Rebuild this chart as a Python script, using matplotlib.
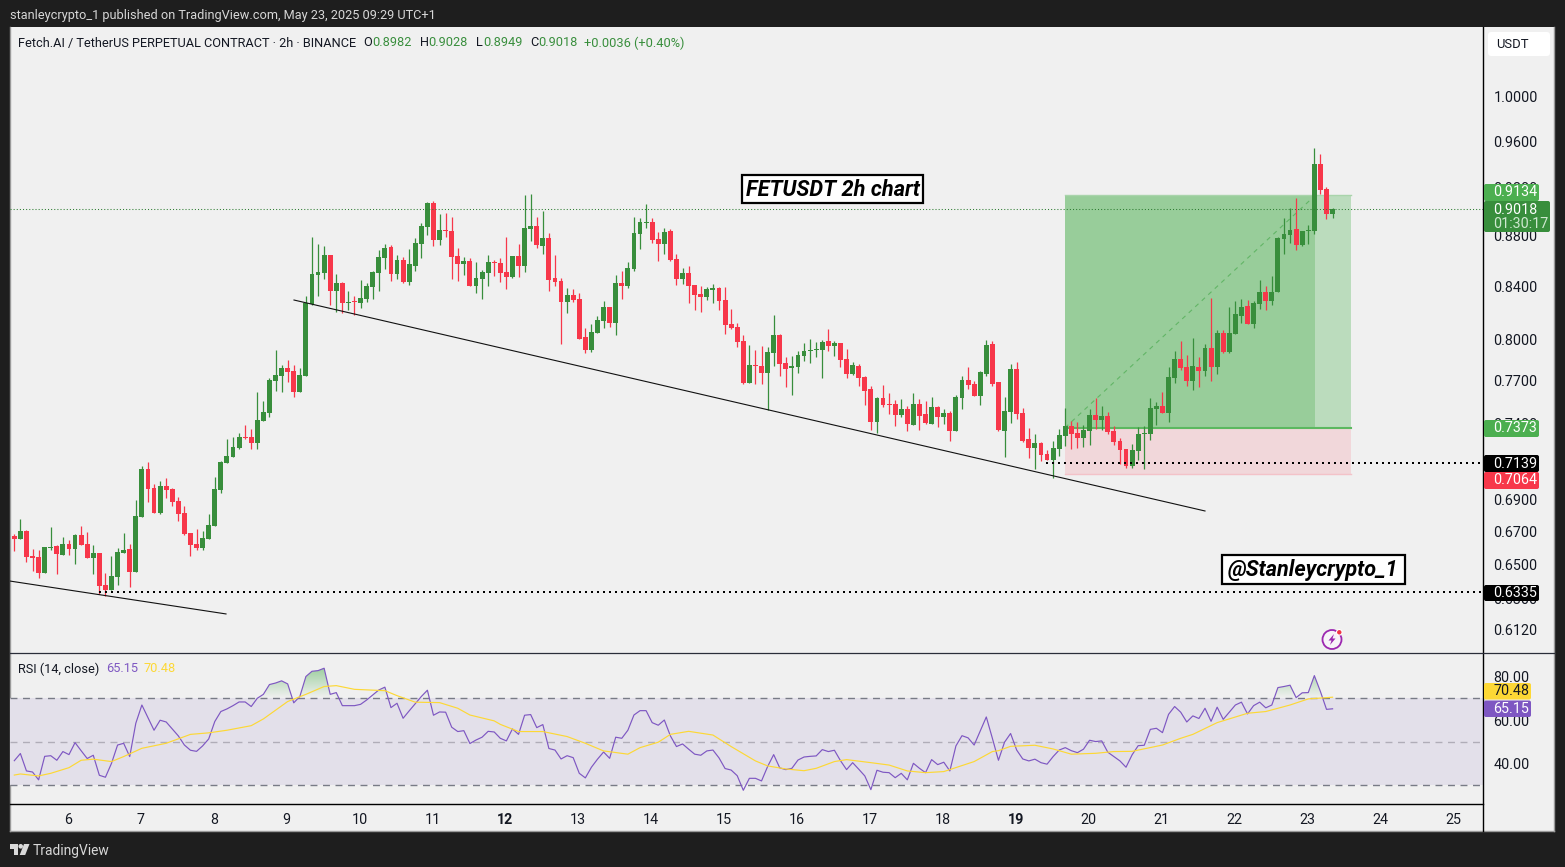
import numpy as np
import matplotlib
matplotlib.use("Agg")
import matplotlib.pyplot as plt
from matplotlib.patches import Rectangle, FancyBboxPatch, Polygon, Circle
from matplotlib.path import Path

# ---------- data ----------
opens = [.6675,.6655,.6704,.6552,.6546,.6450,.6600,.6612,.6558,.6625,
 .6594,.6679,.6625,.6540,.6570,.6379,.6350,.6426,.6570,.6594,
 .6456,.6792,.7098,.6976,.6816,.6989,.6969,.6893,.6816,.6692,
 .6625,.6600,.6655,.6735,.6963,.7137,.7177,.7237,.7311,.7311,
 .7270,.7419,.7474,.7698,.7733,.7790,.7769,.7620,.7733,.8264,
 .8488,.8503,.8646,.8363,.8426,.8271,.8286,.8271,.8302,.8394,
 .8503,.8622,.8710,.8496,.8606,.8434,.8558,.8734,.8872,.9070,
 .8766,.8847,.8839,.8638,.8574,.8598,.8402,.8457,.8503,.8590,
 .8582,.8511,.8472,.8638,.8558,.8855,.8880,.8718,.8782,.8465,
 .8441,.8279,.8333,.8302,.8016,.7921,.8046,.8135,.8241,.8120,
 .8426,.8402,.8535,.8815,.8904,.8913,.8774,.8734,.8839,.8614,
 .8457,.8503,.8410,.8340,.8317,.8371,.8387,.8294,.8113,.8090,
 .7987,.7684,.7812,.7805,.7755,.7899,.8031,.7826,.7790,.7798,
 .7877,.7913,.7921,.7921,.7987,.7950,.7972,.7855,.7748,.7805,
 .7726,.7641,.7412,.7578,.7536,.7536,.7460,.7502,.7392,.7536,
 .7467,.7399,.7515,.7447,.7474,.7351,.7578,.7705,.7677,.7592,
 .7748,.7965,.7691,.7351,.7481,.7783,.7474,.7297,.7237,.7270,
 .7197,.7157,.7230,.7317,.7385,.7338,.7304,.7351,.7460,.7426,
 .7454,.7351,.7283,.7230,.7118,.7217,.7331,.7331,.7502,.7522,
 .7474,.7719,.7855,.7798,.7698,.7798,.7769,.7935,.7798,.8046,
 .7906,.8038,.8173,.8249,.8113,.8264,.8356,.8286,.8356,.8774,
 .8806,.8855,.8726,.8839,.8839,.9402,.9187,.8982]
highs = [.6686,.6779,.6710,.6594,.6588,.6606,.6729,.6618,.6667,.6649,
 .6686,.6735,.6698,.6618,.6570,.6450,.6552,.6600,.6692,.6625,
 .6899,.7118,.7144,.7001,.7021,.7040,.6976,.6918,.6861,.6692,
 .6716,.6704,.6810,.7046,.7150,.7297,.7311,.7338,.7392,.7365,
 .7620,.7557,.7719,.7921,.7812,.7848,.7812,.7790,.8325,.8790,
 .8734,.8718,.8646,.8496,.8434,.8363,.8325,.8449,.8426,.8519,
 .8686,.8734,.8726,.8646,.8630,.8694,.8782,.8904,.9078,.9087,
 .8978,.8986,.8954,.8702,.8630,.8622,.8590,.8527,.8646,.8606,
 .8622,.8790,.8638,.8734,.9137,.9145,.8954,.9003,.8823,.8646,
 .8465,.8387,.8379,.8348,.8083,.8113,.8173,.8286,.8241,.8488,
 .8519,.8590,.8954,.8946,.9061,.8946,.8831,.8863,.8855,.8654,
 .8543,.8558,.8410,.8402,.8394,.8418,.8394,.8394,.8226,.8120,
 .8031,.7957,.7921,.7950,.7943,.8180,.8038,.7870,.7877,.7913,
 .7972,.8001,.7979,.7994,.8075,.7987,.7972,.7928,.7834,.7819,
 .7733,.7662,.7585,.7669,.7613,.7564,.7571,.7522,.7613,.7571,
 .7557,.7585,.7522,.7502,.7488,.7599,.7733,.7798,.7698,.7769,
 .7994,.7987,.7691,.7585,.7819,.7834,.7509,.7372,.7331,.7277,
 .7224,.7283,.7365,.7509,.7419,.7412,.7392,.7502,.7578,.7522,
 .7481,.7385,.7304,.7230,.7264,.7378,.7385,.7578,.7550,.7620,
 .7798,.7913,.7987,.7885,.8009,.7870,.7965,.8309,.8068,.8068,
 .8241,.8286,.8302,.8294,.8286,.8449,.8402,.8480,.8790,.8946,
 .9028,.9112,.8839,.8888,.9541,.9489,.9204,.9028]
lows = [.6582,.6655,.6516,.6462,.6420,.6450,.6588,.6444,.6558,.6558,
 .6504,.6618,.6540,.6444,.6327,.6315,.6350,.6379,.6570,.6367,
 .6456,.6792,.6886,.6816,.6810,.6912,.6861,.6767,.6679,.6552,
 .6588,.6588,.6655,.6735,.6944,.7137,.7177,.7230,.7297,.7230,
 .7230,.7419,.7447,.7627,.7620,.7691,.7585,.7620,.7733,.8256,
 .8325,.8457,.8256,.8203,.8195,.8218,.8180,.8233,.8279,.8302,
 .8363,.8535,.8441,.8457,.8426,.8410,.8519,.8622,.8806,.8718,
 .8726,.8790,.8457,.8441,.8488,.8402,.8348,.8302,.8402,.8480,
 .8434,.8379,.8465,.8472,.8511,.8758,.8702,.8654,.8363,.8402,
 .7965,.8195,.8279,.8001,.7899,.7906,.8046,.8083,.8090,.8031,
 .8302,.8387,.8519,.8694,.8863,.8742,.8598,.8654,.8598,.8410,
 .8418,.8271,.8218,.8203,.8294,.8271,.8218,.8038,.8075,.7943,
 .7677,.7684,.7677,.7677,.7495,.7805,.7733,.7655,.7599,.7755,
 .7841,.7826,.7870,.7719,.7913,.7877,.7798,.7719,.7740,.7662,
 .7529,.7358,.7338,.7515,.7467,.7385,.7447,.7351,.7392,.7358,
 .7399,.7399,.7378,.7399,.7283,.7351,.7502,.7641,.7592,.7529,
 .7733,.7662,.7351,.7177,.7405,.7433,.7277,.7170,.7098,.7150,
 .7157,.7040,.7184,.7250,.7230,.7237,.7244,.7257,.7365,.7358,
 .7331,.7257,.7131,.7105,.7105,.7157,.7098,.7290,.7392,.7474,
 .7412,.7684,.7776,.7662,.7634,.7655,.7733,.7698,.7748,.7899,
 .7899,.8038,.8120,.8113,.8083,.8226,.8218,.8256,.8356,.8654,
 .8742,.8686,.8718,.8734,.8815,.9145,.8937,.8949]
closes = [.6655,.6704,.6546,.6540,.6450,.6606,.6606,.6564,.6625,.6594,
 .6679,.6618,.6540,.6570,.6373,.6350,.6432,.6576,.6588,.6456,
 .6798,.7098,.6969,.6816,.6989,.6963,.6886,.6810,.6686,.6618,
 .6600,.6661,.6741,.6969,.7144,.7184,.7244,.7311,.7304,.7270,
 .7426,.7481,.7705,.7740,.7790,.7762,.7620,.7740,.8271,.8496,
 .8511,.8646,.8363,.8426,.8271,.8279,.8279,.8309,.8402,.8511,
 .8630,.8702,.8496,.8606,.8434,.8574,.8742,.8880,.9070,.8766,
 .8847,.8839,.8630,.8574,.8598,.8402,.8465,.8511,.8590,.8582,
 .8503,.8472,.8638,.8558,.8863,.8880,.8726,.8782,.8449,.8434,
 .8279,.8333,.8294,.8001,.7921,.8053,.8143,.8241,.8120,.8426,
 .8402,.8543,.8823,.8913,.8913,.8766,.8734,.8831,.8606,.8457,
 .8503,.8402,.8333,.8317,.8379,.8387,.8286,.8105,.8083,.7979,
 .7684,.7812,.7805,.7755,.7906,.8031,.7819,.7783,.7805,.7885,
 .7913,.7921,.7928,.7979,.7950,.7972,.7848,.7748,.7812,.7719,
 .7627,.7412,.7578,.7529,.7529,.7460,.7502,.7399,.7536,.7454,
 .7405,.7515,.7447,.7474,.7351,.7585,.7705,.7669,.7592,.7762,
 .7957,.7677,.7358,.7488,.7783,.7467,.7283,.7237,.7270,.7190,
 .7157,.7237,.7324,.7385,.7331,.7304,.7358,.7460,.7426,.7454,
 .7344,.7277,.7224,.7118,.7224,.7331,.7338,.7509,.7522,.7474,
 .7726,.7855,.7790,.7698,.7805,.7769,.7935,.7798,.8046,.7906,
 .8046,.8188,.8241,.8113,.8271,.8356,.8286,.8356,.8782,.8815,
 .8847,.8726,.8839,.8847,.9402,.9179,.8978,.9018]
rsi_values = [41.3,44.6,36.6,36.1,32.5,43.3,43.6,41.5,45.5,44.1,
 49.6,45.9,42.3,43.8,34.6,33.7,40.1,48.5,49.3,43.2,
 58.5,66.9,61.1,55.3,59.9,59.1,55.9,52.7,48.5,46.1,
 45.6,48.1,51.3,59.3,63.9,65.1,66.6,68.3,68.3,66.2,
 70.0,71.8,76.3,77.0,78.0,76.6,67.9,70.8,80.0,82.4,
 82.7,83.8,71.8,72.6,66.6,66.6,66.6,67.2,69.2,71.5,
 73.8,75.1,65.7,67.7,60.8,64.2,67.5,70.8,73.7,62.2,
 63.7,63.6,56.7,54.7,55.1,49.2,50.8,52.1,54.8,54.5,
 51.6,50.4,55.9,53.4,62.2,62.5,56.5,57.9,46.9,46.2,
 42.1,43.6,42.7,35.5,33.4,38.3,42.0,45.3,42.4,52.1,
 51.6,55.3,62.3,64.3,64.3,58.8,57.6,60.0,52.7,47.8,
 49.0,46.6,44.3,43.8,45.8,46.2,42.6,37.7,37.0,34.4,
 27.7,33.2,33.2,32.0,38.6,44.1,38.0,37.2,37.8,41.6,
 43.0,43.3,43.5,46.4,45.5,46.1,41.3,37.2,40.4,37.4,
 34.3,28.0,36.9,36.0,35.8,33.5,35.5,32.5,40.1,37.8,
 35.8,41.8,39.5,40.6,36.6,48.1,52.8,51.8,48.5,55.0,
 61.4,51.6,41.5,49.8,53.8,46.2,42.1,41.2,42.0,40.4,
 39.7,43.2,46.2,47.3,45.9,45.0,46.6,50.7,50.1,50.4,
 45.2,43.2,41.2,38.3,44.0,48.2,48.4,55.7,56.2,54.2,
 62.6,66.2,63.6,59.1,61.9,60.7,65.4,59.4,65.9,60.3,
 63.6,66.9,68.2,62.8,66.6,68.2,65.6,66.9,74.9,75.4,
 76.0,70.3,72.5,72.6,80.4,73.1,64.9,65.15]
ma_bars = [0,1,4,6,9,11,13,16,18,21,25,29,32,35,39,41,45,48,51,53,56,61,63,66,70,73,75,79,
 80,83,87,91,94,97,101,103,106,108,111,115,118,122,124,127,130,132,135,137,141,144,147,150,153,158,161,162,
 164,168,171,174,178,181,184,189,192,194,198,203,206,210,213,217]
ma_values = [34.7,35.2,34.3,35.5,38.1,41.5,42.0,40.9,43.2,47.0,49.3,53.4,54.1,55.3,57.4,60.5,68.5,71.8,75.4,75.8,74.1,73.5,71.2,68.2,68.0,65.4,62.3,59.6,
 58.0,54.7,54.7,52.4,49.3,45.8,44.3,47.3,49.8,53.4,54.8,53.1,47.8,41.2,38.9,37.5,36.7,37.8,40.9,41.8,40.4,39.3,36.6,35.8,36.3,40.9,45.5,45.9,
 47.9,48.4,46.7,44.3,44.7,45.5,45.6,48.5,51.6,53.4,58.8,63.1,63.9,66.9,69.7,70.48]
price_ticks = [1.0, .96, .92, .88, .84, .80, .77, .74, .69, .67, .65, .63, .612]
rsi_ticks = [80, 60, 40]
day_labels = ["6","7","8","9","10","11","12","13","14","15","16","17","18","19","20","21","22","23","24","25"]
bold_days = ["12", "19"]
entry_price, target_price, stop_price = .7373, .9134, .7064
last_price, support_high, support_low = .9018, .7139, .6335
trend_a_bars, trend_a_prices = [46.04, 196.0], [.8294, .6829]
trend_b_bars, trend_b_prices = [-0.7, 34.85], [.6402, .6211]
pos_start_bar, pos_now_bar, pos_end_bar = 172.95, 214.15, 220.0
support_high_start, support_low_start = 169.9, 14.0

# ---------- style / layout ----------
W, H = 1565, 867
DARK, LIGHT = "#1e1e1e", "#f0f0f0"
GREEN, RED = "#388e3c", "#f7374a"
FONT = "Roboto"
AXIS_FS = 10.3
BAR0, STEP = 14.3, 6.075   # pixel of bar 0, pixels per bar
plt.rcParams["font.family"] = FONT

fig = plt.figure(figsize=(W / 100, H / 100), dpi=100, facecolor=DARK)

def box(l, t, r, b):
    return [l / W, 1 - b / H, (r - l) / W, (b - t) / H]

bg = fig.add_axes(box(10, 27, 1554, 831), zorder=-1, facecolor=LIGHT)
bg.set_xticks([]); bg.set_yticks([])
for s in bg.spines.values():
    s.set_color("#9a9a9a"); s.set_linewidth(1)
bg.spines["top"].set_visible(False)

ax = fig.add_axes(box(10, 27, 1483, 652), zorder=1, facecolor="none")
rs = fig.add_axes(box(10, 653, 1483, 804), zorder=1, facecolor="none")
xlim = ((10 - BAR0) / STEP, (1483 - BAR0) / STEP)

# ---------- price pane ----------
ax.set_yscale("log")
bars = np.arange(len(closes))
o, h, l, c = map(np.array, (opens, highs, lows, closes))
col = np.where(c >= o, GREEN, RED)

ax.fill_between([pos_start_bar, pos_now_bar], entry_price, target_price, color="#98cd9a", lw=0, zorder=1)
ax.fill_between([pos_now_bar, pos_end_bar], entry_price, target_price, color="#bbdcbd", lw=0, zorder=1)
ax.fill_between([pos_start_bar, pos_end_bar], stop_price, entry_price, color="#f1d7da", lw=0, zorder=1)
ax.plot([pos_start_bar, pos_end_bar], [entry_price] * 2, color="#5cb860", lw=1.5, zorder=2)
ax.plot([pos_start_bar, pos_end_bar], [target_price] * 2, color="#a9d4ab", lw=1, zorder=2)
ax.plot([pos_start_bar, pos_end_bar], [stop_price] * 2, color="#f3c2c8", lw=1, zorder=2)
ax.plot([pos_start_bar, pos_now_bar], [entry_price, target_price], color="#62b566", lw=0.8,
        dashes=(4, 4), zorder=2)

ax.plot(trend_a_bars, trend_a_prices, color="#111111", lw=0.8, zorder=5)
ax.plot(trend_b_bars, trend_b_prices, color="#111111", lw=0.8, zorder=5)

ax.vlines(bars, l, h, colors=col, lw=0.9, zorder=3)
ax.bar(bars, np.maximum(np.abs(c - o), 0.0004), bottom=np.minimum(o, c), width=0.8, color=col, lw=0, zorder=4)

ax.plot([xlim[0], xlim[1]], [last_price] * 2, color="#2e7d32", lw=0.75, dashes=(1, 2), zorder=6)
ax.plot([support_high_start, xlim[1]], [support_high] * 2, color="#000000", lw=1.44, dashes=(1, 2), zorder=6)
ax.plot([support_low_start, xlim[1]], [support_low] * 2, color="#000000", lw=1.44, dashes=(1, 2), zorder=6)

ax.set_xlim(*xlim)
ax.set_ylim(0.5997, 1.0666)
ax.yaxis.tick_right()
ax.set_yticks(price_ticks)
ax.set_yticklabels([f"{v:.4f}" for v in price_ticks], fontsize=AXIS_FS, color="#131722")
ax.minorticks_off()
ax.tick_params(axis="y", length=0, pad=7.5)
ax.set_xticks([])
for s in ax.spines.values():
    s.set_visible(False)

# ---------- RSI pane ----------
rsi = np.array(rsi_values)
rs.axhspan(30, 70, color="#e3e0ea", lw=0, zorder=0)
for lvl, colr in ((70, "#787b86"), (50, "#b0adb8"), (30, "#787b86")):
    rs.axhline(lvl, color=colr, lw=1, dashes=(5, 4), zorder=1)

def gradient_fill(where, lo, hi, rgb, a_lo, a_hi):
    poly = rs.fill_between(bars, 70, rsi, where=where, interpolate=True, color="none", lw=0)
    paths = poly.get_paths()
    if not paths:
        return
    grad = np.zeros((64, 2, 4))
    grad[..., 0], grad[..., 1], grad[..., 2] = rgb
    grad[..., 3] = np.linspace(a_hi, a_lo, 64)[:, None]
    im = rs.imshow(grad, extent=[xlim[0], xlim[1], lo, hi], aspect="auto", origin="upper", zorder=1.5)
    im.set_clip_path(Path.make_compound_path(*paths), rs.transData)

gradient_fill(rsi > 70, 70, 85, (0.3, 0.69, 0.31), 0.0, 0.55)
rs.plot(bars, rsi, color="#7e57c2", lw=0.85, zorder=3)
rs.plot(ma_bars, ma_values, color="#fdd835", lw=0.85, zorder=3)
rs.set_xlim(*xlim)
rs.set_ylim(21.4, 90.8)
rs.yaxis.tick_right()
rs.set_yticks(rsi_ticks)
rs.set_yticklabels([f"{v:.2f}" for v in rsi_ticks], fontsize=AXIS_FS, color="#131722")
rs.tick_params(axis="y", length=0, pad=7.5)
first_day = (68 - BAR0) / STEP
rs.set_xticks([first_day + 12 * k for k in range(len(day_labels))])
rs.set_xticklabels(day_labels, fontsize=AXIS_FS, color="#131722")
for t in rs.get_xticklabels():
    if t.get_text() in bold_days:
        t.set_fontweight("bold")
rs.tick_params(axis="x", length=0, pad=6.2)
for s in rs.spines.values():
    s.set_visible(False)

# ---------- overlay in pixel coordinates ----------
ov = fig.add_axes([0, 0, 1, 1], zorder=5, facecolor="none")
ov.set_xlim(0, W); ov.set_ylim(H, 0); ov.axis("off")

ov.plot([1483, 1483], [27, 831], color="#000000", lw=1.0)
ov.plot([10, 1483], [804, 804], color="#000000", lw=1.0)
ov.plot([10, 1554], [652.5, 652.5], color="#2a2e39", lw=0.9)

def tag(text, top, bottom, color, right=1539, fg="white", second=None):
    ov.add_patch(FancyBboxPatch((1484, top), right - 1484, bottom - top,
                                boxstyle="round,pad=0,rounding_size=2", fc=color, ec="none", zorder=3))
    if second is None:
        ov.text(1493, (top + bottom) / 2, text, color=fg, fontsize=AXIS_FS, va="center", ha="left", zorder=4)
    else:
        ov.text(1493, top + 9, text, color=fg, fontsize=AXIS_FS, va="center", ha="left", zorder=4)
        ov.text(1493, top + 23, second, color="#cfe8d0", fontsize=AXIS_FS, va="center", ha="left", zorder=4)

tag("0.9134", 184, 201, "#4caf50")
tag("0.9018", 201, 232, "#388e3c", right=1550, second="01:30:17")
tag("0.7373", 420, 437, "#4caf50")
tag("0.7139", 455, 472, "#000000")
tag("0.7064", 472, 489, "#f7374a")
tag("0.6335", 585, 601, "#000000")
tag("70.48", 683, 699.5, "#fdd835", right=1531, fg="#131722")
tag("65.15", 700.5, 717, "#7e57c2", right=1531)

ov.add_patch(FancyBboxPatch((1488, 32), 62, 24, boxstyle="round,pad=0,rounding_size=3", fc="white", ec="none"))
ov.text(1496, 44, "USDT", fontsize=9.4, color="#131722", va="center", ha="left")

for txt, l_, t_, r_, b_, fs in (("FETUSDT 2h chart", 742, 175, 923, 203, 15.7),
                                ("@Stanleycrypto_1", 1222, 555, 1405, 584, 15.6)):
    ov.add_patch(Rectangle((l_, t_), r_ - l_, b_ - t_, fc="white", ec="black", lw=1.6, zorder=3))
    ov.text((l_ + r_) / 2, (t_ + b_) / 2 + 0.5, txt, fontsize=fs, fontweight="bold", fontstyle="italic",
            color="black", ha="center", va="center", zorder=4)

ov.text(10, 15.5, "stanleycrypto_1 published on TradingView.com, May 23, 2025 09:29 UTC+1",
        color="#d8d8d8", fontsize=9.2, va="center", ha="left")
ov.text(18, 43, "Fetch.AI / TetherUS PERPETUAL CONTRACT · 2h · BINANCE", color="#131722",
        fontsize=9.15, va="center", ha="left")
for x_, s_, colr in ((363, "O", "#131722"), (372.5, "0.8982", GREEN), (420, "H", "#131722"), (428.5, "0.9028", GREEN),
                     (476, "L", "#131722"), (483.5, "0.8949", GREEN), (530, "C", "#131722"), (538.5, "0.9018", GREEN),
                     (584, "+0.0036 (+0.40%)", GREEN)):
    ov.text(x_, 43, s_, color=colr, fontsize=9.15, va="center", ha="left")

ov.text(18, 669, "RSI (14, close)", color="#131722", fontsize=9.15, va="center", ha="left")
ov.text(106, 669, "65.15", color="#7e57c2", fontsize=9.15, va="center", ha="left")
ov.text(143, 669, "70.48", color="#fdd835", fontsize=9.15, va="center", ha="left")

# small TradingView mark and footer
LOGO = "#d9d9d9"
ov.add_patch(Polygon([(10, 844), (18, 844), (18, 855), (14, 855), (14, 849), (10, 849)], fc=LOGO, ec="none"))
ov.add_patch(Circle((20.7, 846.3), 2.3, fc=LOGO, ec="none"))
ov.add_patch(Polygon([(24, 844), (29.5, 844), (25.2, 855), (19.7, 855)], fc=LOGO, ec="none"))
ov.text(33, 851, "TradingView", color="#d9d9d9", fontsize=9.9, va="center", ha="left")

# purple lightning badge
ov.add_patch(Circle((1332, 639.5), 9.5, fc="#f7f3f8", ec="#9c27b0", lw=1.3))
ov.add_patch(Polygon([(1334, 634), (1328.5, 640.5), (1331.5, 640.5), (1330, 645), (1335.5, 638.5), (1332.5, 638.5)],
                     fc="#9c27b0", ec="none"))
ov.add_patch(Circle((1339.3, 632.3), 2.8, fc="#f23645", ec="white", lw=0.8))

fig.savefig("out.png", dpi=100, facecolor=DARK)
